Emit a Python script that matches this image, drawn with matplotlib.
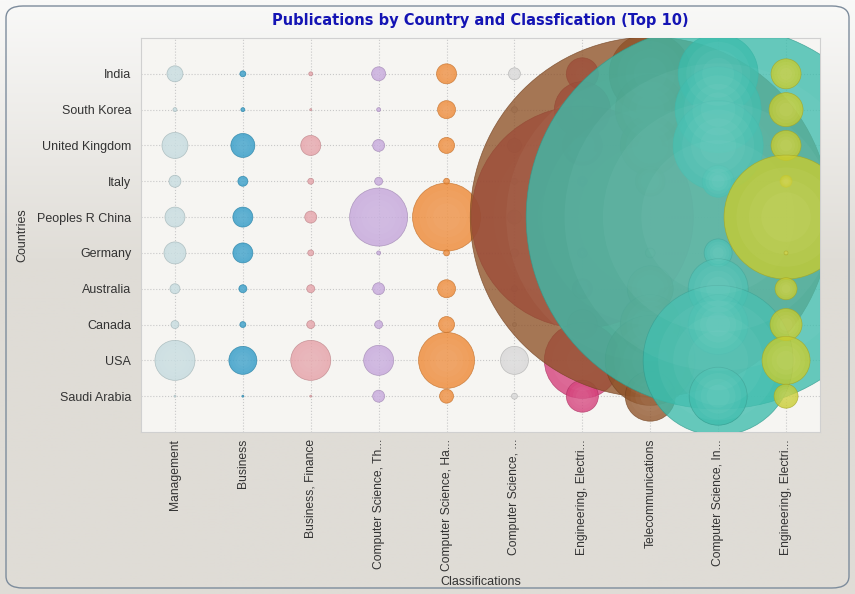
import matplotlib
matplotlib.use("Agg")
import matplotlib.pyplot as plt
import numpy as np
from matplotlib.patches import FancyBboxPatch
from matplotlib.colors import to_rgb

# categories
countries = ["India", "South Korea", "United Kingdom", "Italy", "Peoples R China",
             "Germany", "Australia", "Canada", "USA", "Saudi Arabia"]
classes = ["Management", "Business", "Business, Finance", "Computer Science, Th...",
           "Computer Science, Ha...", "Computer Science, ...", "Engineering, Electri...",
           "Telecommunications", "Computer Science, In...", "Engineering, Electri..."]

# publication counts per classification (same order as countries)
management = [8, 2, 13, 6, 10, 11, 5, 4, 20, 1]
business = [3, 2, 12, 5, 10, 10, 4, 3, 14, 1]
business_finance = [2, 1, 10, 3, 6, 3, 4, 4, 20, 1]
cs_theory = [7, 2, 6, 4, 29, 2, 6, 4, 15, 6]
cs_hardware = [10, 9, 8, 3, 34, 3, 9, 8, 28, 7]
cs_other = [6, 3, 7, 3, 7, 4, 3, 2, 14, 3]
eng_electrical = [16, 28, 20, 5, 111, 5, 10, 15, 38, 16]
telecom = [41, 35, 30, 15, 180, 5, 23, 30, 45, 25]
cs_info = [40, 43, 45, 16, 192, 14, 30, 30, 75, 29]
eng_electronic = [15, 17, 15, 6, 62, 2, 11, 16, 24, 12]

series = [management, business, business_finance, cs_theory, cs_hardware,
          cs_other, eng_electrical, telecom, cs_info, eng_electronic]
colors = ["#c3dade", "#2a98c6", "#e59ea5", "#c3a4da", "#ee8630",
          "#d6d6d6", "#d43c78", "#8e5228", "#3cbcac", "#c9cc2e"]

px_per_pub = 2.0  # bubble diameter in pixels per publication

fig = plt.figure(figsize=(8.55, 5.94), dpi=100)

# background with gradient and rounded frame
bg = fig.add_axes([0, 0, 1, 1], zorder=-10)
bg.set_axis_off()
grad = np.linspace(0, 1, 200)
grad = np.clip(grad / 0.45, 0, 1)
top = np.array(to_rgb("#f9f9f8"))
bot = np.array(to_rgb("#dfdcd6"))
img = top[None, :] * (1 - grad[:, None]) + bot[None, :] * grad[:, None]
img = np.repeat(img[:, None, :], 2, axis=1)
bg.imshow(img, aspect="auto", extent=[0, 1, 0, 1], origin="upper")
bg.set_xlim(0, 1)
bg.set_ylim(0, 1)
frame = FancyBboxPatch((6 / 855, 6 / 594), 843 / 855, 582 / 594,
                       boxstyle="round,pad=0,rounding_size=0.02",
                       transform=bg.transAxes, facecolor="none",
                       edgecolor="#7d8c9c", linewidth=1.0)
bg.add_patch(frame)

ax = fig.add_axes([141 / 855, 1 - 432 / 594, 679 / 855, 394 / 594])
ax.set_facecolor("#f6f5f2")

ypos = np.arange(len(countries))[::-1]  # India on top
for i, (vals, col) in enumerate(zip(series, colors)):
    d = np.array(vals) * px_per_pub * 0.72  # points
    x = np.full(len(vals), i)
    base = np.array(to_rgb(col))
    dark = base * 0.82
    light = base + (1 - base) * 0.5
    ax.scatter(x, ypos, s=d ** 2, color=col, alpha=0.78, edgecolors=[dark],
               linewidths=0.5, zorder=3 + i)
    # soft highlight, a few faint layers for a sphere look
    for f in (0.8, 0.6, 0.4):
        ax.scatter(x, ypos, s=(d * f) ** 2, color=light, alpha=0.08,
                   linewidths=0, zorder=3 + i)

ax.set_xlim(-0.5, len(classes) - 0.5)
ax.set_ylim(-1, len(countries))
ax.set_xticks(range(len(classes)))
ax.set_xticklabels(classes, rotation=90, fontsize=8.7, color="#333333",
                   family="Liberation Sans")
ax.set_yticks(ypos)
ax.set_yticklabels(countries, fontsize=9, color="#333333", family="Liberation Sans")
ax.tick_params(axis="y", length=0, pad=7)
ax.tick_params(axis="x", length=0, pad=5)
ax.grid(True, color="#c8c8c8", linestyle=":", linewidth=0.8, zorder=0)
ax.set_axisbelow(True)
for sp in ax.spines.values():
    sp.set_color("#d0d0d0")

ax.set_xlabel("Classifications", fontsize=9, color="#333333", family="Liberation Sans")
ax.set_ylabel("Countries", fontsize=9, color="#333333", family="Liberation Sans")
ax.xaxis.set_label_coords(0.5, -(576 - 432) / 394)
ax.yaxis.set_label_coords(-(141 - 28) / 679, 0.5)
ax.set_title("Publications by Country and Classfication (Top 10)", fontsize=10.5,
             fontweight="bold", color="#1414b4", pad=9)

fig.savefig("out.png", dpi=100)
